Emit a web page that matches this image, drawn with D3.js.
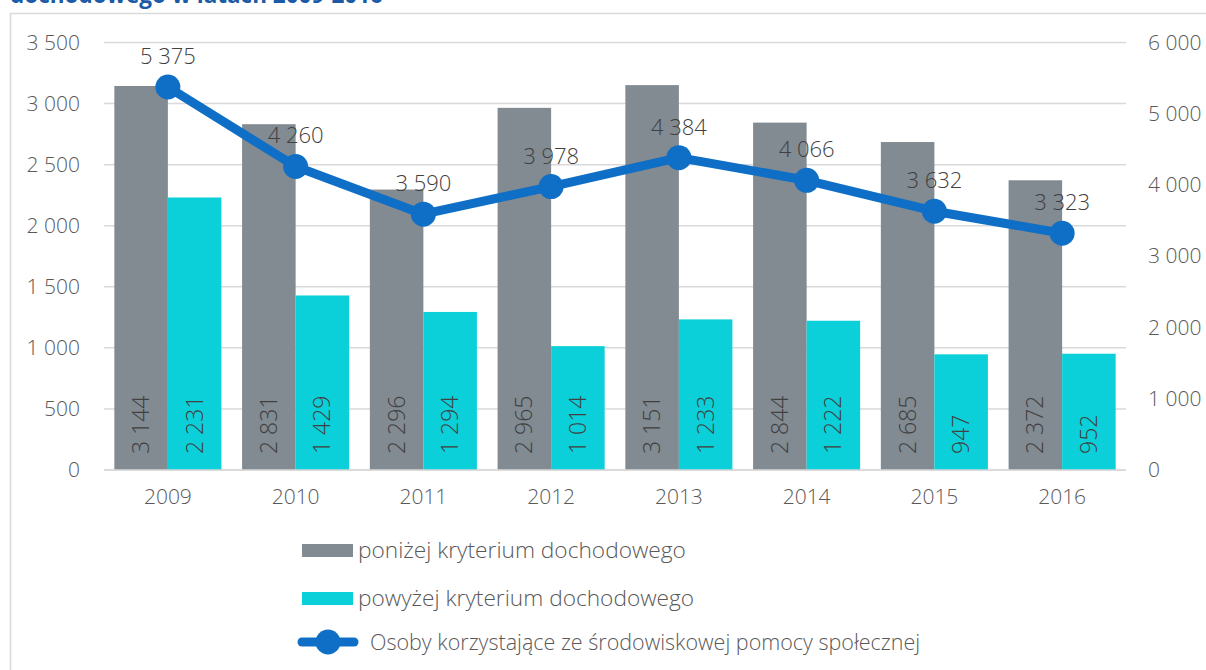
<!DOCTYPE html>
<html>
<head>
<meta charset="utf-8">
<script src="https://cdn.jsdelivr.net/npm/d3@7"></script>
<style>
  html, body { margin: 0; padding: 0; background: #fff; }
  svg { display: block; }
  text { font-family: "Open Sans", "Noto Sans", sans-serif; }
  .light { font-weight: 300; }
</style>
</head>
<body>
<svg id="chart" width="1206" height="670"></svg>
<script>
// Years and series
const years = ["2009", "2010", "2011", "2012", "2013", "2014", "2015", "2016"];
const belowCriterion = [3144, 2831, 2296, 2965, 3151, 2844, 2685, 2372];
const aboveCriterion = [2231, 1429, 1294, 1014, 1233, 1222, 947, 952];
const recipients = [5375, 4260, 3590, 3978, 4384, 4066, 3632, 3323];

const leftTicks = [0, 500, 1000, 1500, 2000, 2500, 3000, 3500];
const rightTicks = [0, 1000, 2000, 3000, 4000, 5000, 6000];

const seriesNames = [
  "poniżej kryterium dochodowego",
  "powyżej kryterium dochodowego",
  "Osoby korzystające ze środowiskowej pomocy społecznej"
];
const titleText = "dochodowego w latach 2009-2016";

const colors = { below: "#828a92", above: "#0bd0d9", line: "#0f6fc6", grid: "#d9d9d9", text: "#595959", label: "#404040" };
const FONT = "'Open Sans', 'Noto Sans', sans-serif";

// Polish-style thousands separator (space)
const fmt = v => d3.format(",")(v).replace(/,/g, " ");

const svg = d3.select("#chart");

// Heading (runs off the top edge)
svg.append("text")
  .attr("x", 10).attr("y", 3)
  .attr("font-size", 22.5).attr("font-weight", 700)
  .attr("fill", "#1a5aa6")
  .text(titleText);

// Chart frame
svg.append("rect")
  .attr("x", 10.5).attr("y", 13.5)
  .attr("width", 1220).attr("height", 700)
  .attr("fill", "none").attr("stroke", "#d9d9d9").attr("stroke-width", 1.5);

const plot = { left: 104, right: 1126, top: 42.5, bottom: 470 };

const x = d3.scaleBand().domain(years).range([plot.left, plot.right]).paddingInner(0).paddingOuter(0);
const groupW = x.bandwidth() * 0.838;
const xSub = d3.scaleBand().domain(["below", "above"]).range([0, groupW]);

const yL = d3.scaleLinear().domain([0, 3500]).range([plot.bottom, plot.top]);
const yR = d3.scaleLinear().domain([0, 6000]).range([plot.bottom, plot.top]);

// Gridlines
svg.append("g")
  .selectAll("line").data(leftTicks).join("line")
  .attr("x1", plot.left).attr("x2", plot.right)
  .attr("y1", d => yL(d)).attr("y2", d => yL(d))
  .attr("stroke", colors.grid).attr("stroke-width", 1.5);

// Left axis
const axisL = svg.append("g")
  .attr("transform", `translate(${plot.left},0)`)
  .call(d3.axisLeft(yL).tickValues(leftTicks).tickFormat(fmt).tickSize(0).tickPadding(24));
axisL.select(".domain").remove();
axisL.selectAll("text").attr("class", "light").attr("font-size", 21).attr("fill", colors.text).attr("font-family", FONT);

// Right axis
const axisR = svg.append("g")
  .attr("transform", `translate(${plot.right},0)`)
  .call(d3.axisRight(yR).tickValues(rightTicks).tickFormat(fmt).tickSize(0).tickPadding(22));
axisR.select(".domain").remove();
axisR.selectAll("text").attr("class", "light").attr("font-size", 21).attr("fill", colors.text).attr("font-family", FONT);

// Bottom axis labels
const axisB = svg.append("g")
  .attr("transform", `translate(0,${plot.bottom})`)
  .call(d3.axisBottom(x).tickSize(0).tickPadding(19));
axisB.select(".domain").remove();
axisB.selectAll("text").attr("class", "light").attr("font-size", 21).attr("fill", colors.text).attr("font-family", FONT);

// Bars
const rows = years.map((yr, i) => ({ year: yr, below: belowCriterion[i], above: aboveCriterion[i] }));
const groups = svg.append("g").selectAll("g").data(rows).join("g")
  .attr("transform", d => `translate(${x(d.year) + (x.bandwidth() - groupW) / 2},0)`);

["below", "above"].forEach(key => {
  groups.append("rect")
    .attr("x", xSub(key))
    .attr("y", d => yL(d[key]))
    .attr("width", xSub.bandwidth())
    .attr("height", d => yL(0) - yL(d[key]))
    .attr("fill", colors[key]);

  groups.append("text")
    .attr("class", "light")
    .attr("transform", d => `translate(${xSub(key) + xSub.bandwidth() / 2 + 8},${plot.bottom - 16}) rotate(-90)`)
    .attr("text-anchor", "start")
    .attr("font-size", 23)
    .attr("fill", colors.label)
    .text(d => fmt(d[key]));
});

// Baseline
svg.append("line")
  .attr("x1", plot.left).attr("x2", plot.right)
  .attr("y1", plot.bottom).attr("y2", plot.bottom)
  .attr("stroke", colors.grid).attr("stroke-width", 1.5);

// Line series on the secondary axis
const pts = years.map((yr, i) => ({ year: yr, v: recipients[i] }));
const cx = d => x(d.year) + x.bandwidth() / 2;
svg.append("path")
  .datum(pts)
  .attr("fill", "none")
  .attr("stroke", colors.line)
  .attr("stroke-width", 9)
  .attr("stroke-linejoin", "round")
  .attr("d", d3.line().x(cx).y(d => yR(d.v)));

svg.append("g").selectAll("circle").data(pts).join("circle")
  .attr("cx", cx).attr("cy", d => yR(d.v)).attr("r", 12.5)
  .attr("fill", colors.line);

svg.append("g").selectAll("text").data(pts).join("text")
  .attr("class", "light")
  .attr("x", cx).attr("y", d => yR(d.v) - 23)
  .attr("text-anchor", "middle")
  .attr("font-size", 22)
  .attr("fill", colors.label)
  .text(d => fmt(d.v));

// Legend
const legend = svg.append("g");
const lx = 302;
[["below", 544], ["above", 592]].forEach(([key, y0], i) => {
  legend.append("rect").attr("x", lx).attr("y", y0).attr("width", 51).attr("height", 13).attr("fill", colors[key]);
  legend.append("text").attr("class", "light").attr("x", 358).attr("y", y0 + 14).attr("font-size", 22.7).attr("fill", colors.text).text(seriesNames[i]);
});
legend.append("line").attr("x1", 302).attr("x2", 354).attr("y1", 642).attr("y2", 642)
  .attr("stroke", colors.line).attr("stroke-width", 9).attr("stroke-linecap", "round");
legend.append("circle").attr("cx", 328).attr("cy", 642).attr("r", 12.5).attr("fill", colors.line);
legend.append("text").attr("class", "light").attr("x", 370).attr("y", 650).attr("font-size", 21.5).attr("fill", colors.text).text(seriesNames[2]);
</script>
</body>
</html>
